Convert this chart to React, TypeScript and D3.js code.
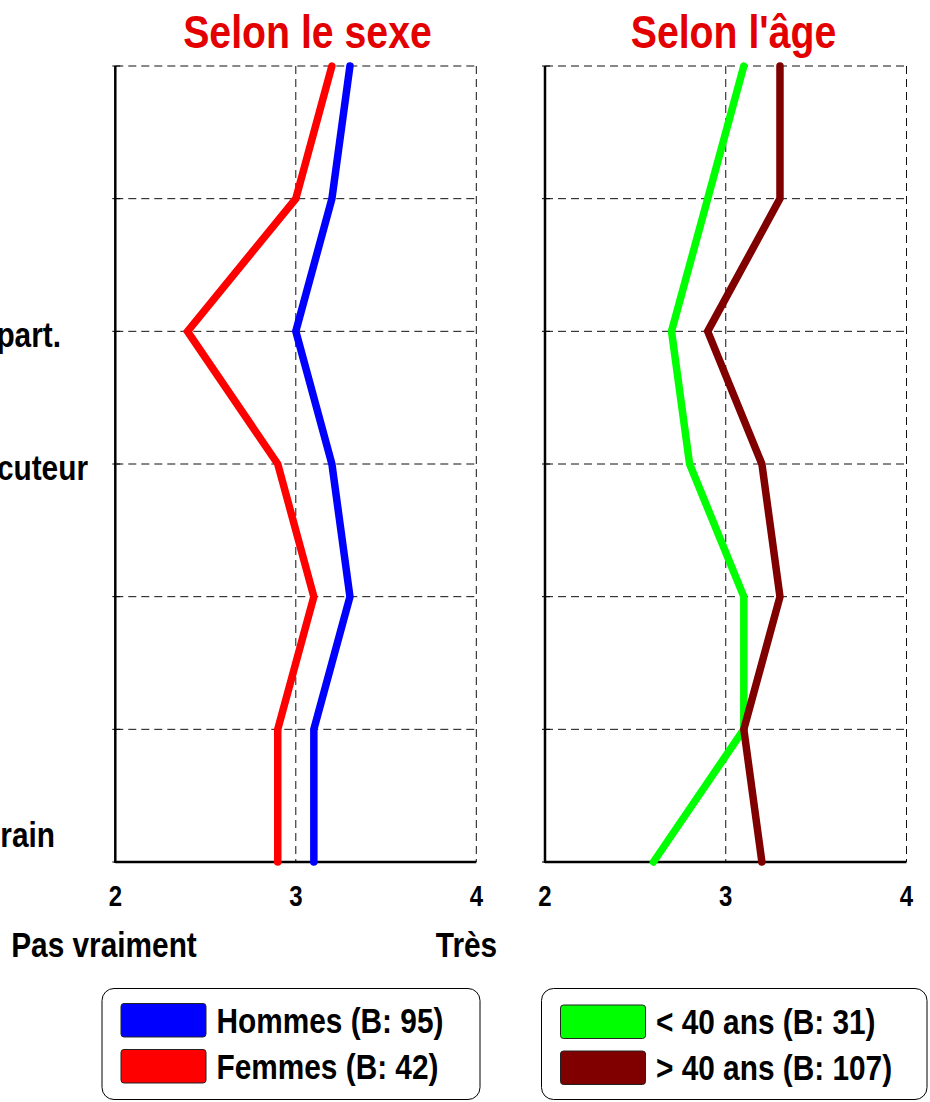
import React from "react";
import * as d3 from "d3";

// ---- data ----
const rows = [0, 1, 2, 3, 4, 5, 6];
const rowLabels = ["", "", "part.", "cuteur", "", "", "rain"];
const xTicks = [2, 3, 4];
const hommes = [3.3, 3.2, 3.0, 3.2, 3.3, 3.1, 3.1];
const femmes = [3.2, 3.0, 2.4, 2.9, 3.1, 2.9, 2.9];
const moins40 = [3.1, 2.9, 2.7, 2.8, 3.1, 3.1, 2.6];
const plus40 = [3.3, 3.3, 2.9, 3.2, 3.3, 3.1, 3.2];
const titles = ["Selon le sexe", "Selon l'âge"];
const scaleLabels = ["Pas vraiment", "Très"];
const legendSexe = ["Hommes (B: 95)", "Femmes (B: 42)"];
const legendAge = ["< 40 ans (B: 31)", "> 40 ans (B: 107)"];

const FONT = "'Liberation Sans', Arial, sans-serif";

function NText({ x, y, size, fill = "#000", anchor = "start", sx = 0.84, children }: any) {
  return (
    <text
      transform={`translate(${x},${y}) scale(${sx},1)`}
      textAnchor={anchor}
      fontFamily={FONT}
      fontWeight="bold"
      fontSize={size}
      fill={fill}
    >
      {children}
    </text>
  );
}

const y = d3.scalePoint<number>().domain(rows).range([66, 862]);

function Panel({ x0, x1, series, colors, title, titleX }: any) {
  const x = d3.scaleLinear().domain([2, 4]).range([x0, x1]);
  return (
    <g>
      <NText x={titleX} y={48} size={47} fill="#e30000" anchor="middle" sx={0.835}>
        {title}
      </NText>
      {rows.map((r) => (
        <line
          key={"h" + r}
          x1={x(2)}
          x2={x(4)}
          y1={y(r)}
          y2={y(r)}
          stroke="#111"
          strokeWidth={1}
          strokeDasharray="8,5"
        />
      ))}
      {[3, 4].map((t) => (
        <line
          key={"v" + t}
          x1={x(t)}
          x2={x(t)}
          y1={y(0)}
          y2={y(6)}
          stroke="#111"
          strokeWidth={1}
          strokeDasharray="8,5"
        />
      ))}
      {rows.map((r) => (
        <line key={"t" + r} x1={x(2) - 3} x2={x(2) + 5} y1={y(r)} y2={y(r)} stroke="#000" strokeWidth={1} />
      ))}
      <line x1={x(2)} x2={x(2)} y1={y(0)} y2={y(6) + 1} stroke="#000" strokeWidth={2.5} />
      <line x1={x(2)} x2={x(4)} y1={y(6)} y2={y(6)} stroke="#000" strokeWidth={2.5} />
      {xTicks.map((t) => (
        <NText key={"xl" + t} x={x(t)} y={906} size={30} anchor="middle" sx={0.8}>
          {t}
        </NText>
      ))}
      {series.map((s: number[], i: number) => {
        const line = d3
          .line<number>()
          .x((v) => x(v))
          .y((_, j) => y(rows[j]) as number);
        return (
          <path
            key={"s" + i}
            d={line(s) as string}
            fill="none"
            stroke={colors[i]}
            strokeWidth={7.5}
            strokeLinecap="round"
            strokeLinejoin="miter"
          />
        );
      })}
    </g>
  );
}

function Legend({ bx, bw, items, colors, sy, tx }: any) {
  return (
    <g>
      <rect x={bx} y={988.5} width={bw} height={111} rx={12} ry={12} fill="#fff" stroke="#000" strokeWidth={1} />
      {items.map((t: string, i: number) => (
        <g key={t}>
          <rect
            x={bx + 19}
            y={sy + i * 46}
            width={85}
            height={33.5}
            rx={3}
            ry={3}
            fill={colors[i]}
            stroke="#222"
            strokeWidth={1}
          />
          <NText x={tx} y={sy + i * 46 + 29} size={35.5}>
            {t}
          </NText>
        </g>
      ))}
    </g>
  );
}

export default function App() {
  const labelPos = [null, null, [61, 347], [88, 480], null, null, [55, 847]];
  return (
    <svg
      width={930}
      height={1102}
      style={{ position: "absolute", left: 0, top: 0, background: "#fff" }}
    >
      <rect x={0} y={0} width={930} height={1102} fill="#fff" />
      {rowLabels.map((l, i) =>
        l && labelPos[i] ? (
          <NText key={"rl" + i} x={labelPos[i]![0]} y={labelPos[i]![1]} size={35.5} anchor="end">
            {l}
          </NText>
        ) : null
      )}
      <Panel
        x0={115.3}
        x1={476.3}
        series={[hommes, femmes]}
        colors={["#0000ff", "#ff0000"]}
        title={titles[0]}
        titleX={307.5}
      />
      <Panel
        x0={545}
        x1={906.5}
        series={[moins40, plus40]}
        colors={["#00ff00", "#800000"]}
        title={titles[1]}
        titleX={733.5}
      />
      <NText x={104} y={957} size={35.5} anchor="middle">
        {scaleLabels[0]}
      </NText>
      <NText x={466.5} y={957} size={35.5} anchor="middle">
        {scaleLabels[1]}
      </NText>
      <Legend bx={102} bw={378} items={legendSexe} colors={["#0000ff", "#ff0000"]} sy={1003.5} tx={216.5} />
      <Legend bx={541.5} bw={385.5} items={legendAge} colors={["#00ff00", "#800000"]} sy={1005} tx={656} />
    </svg>
  );
}
